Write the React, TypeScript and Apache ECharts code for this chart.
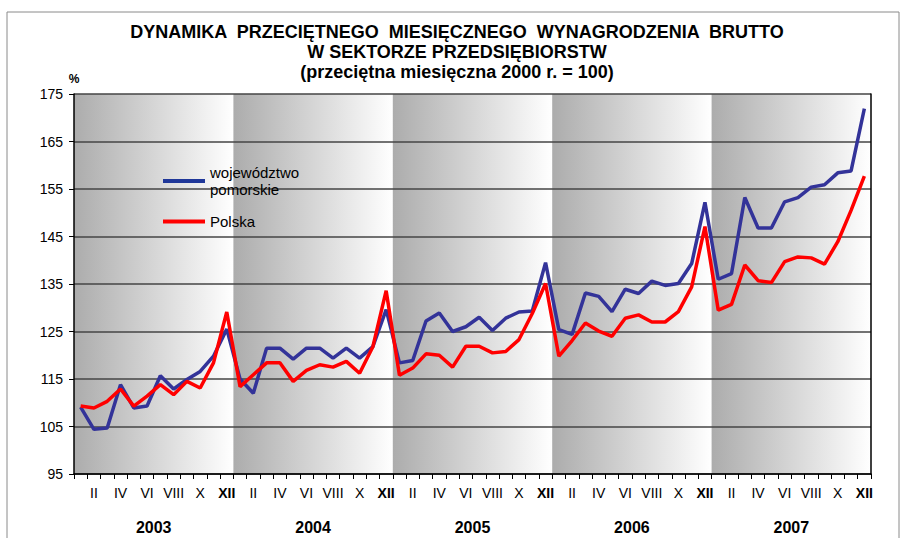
import React, { useEffect, useRef } from "react";
import * as echarts from "echarts";

const months = ["I", "II", "III", "IV", "V", "VI", "VII", "VIII", "IX", "X", "XI", "XII"];
const years = ["2003", "2004", "2005", "2006", "2007"];
const categories = years.flatMap((y) => months.map((m) => `${m} ${y}`));

const seriesNames = ["województwo pomorskie", "Polska"];

const pomorskie = [
  109.1, 104.4, 104.7, 113.8, 108.9, 109.3, 115.7, 112.9, 114.9, 116.6, 119.8, 125.5,
  115.0, 112.0, 121.5, 121.5, 119.2, 121.5, 121.5, 119.4, 121.5, 119.4, 121.8, 129.6,
  118.4, 118.9, 127.2, 128.9, 125.0, 126.0, 128.0, 125.2, 127.8, 129.1, 129.3, 139.5,
  125.4, 124.4, 133.1, 132.4, 129.2, 133.9, 133.0, 135.6, 134.7, 135.1, 139.3, 152.2,
  136.0, 137.2, 153.2, 146.8, 146.8, 152.3, 153.2, 155.4, 155.9, 158.4, 158.8, 171.9,
];

const polska = [
  109.3, 108.9, 110.3, 112.9, 109.3, 111.4, 113.8, 111.7, 114.5, 113.1, 118.4, 129.1,
  113.4, 115.9, 118.4, 118.4, 114.5, 116.8, 118.0, 117.5, 118.7, 116.2, 121.8, 133.6,
  115.8, 117.3, 120.3, 120.0, 117.5, 121.9, 121.9, 120.5, 120.8, 123.3, 128.8, 135.1,
  119.8, 123.1, 126.8, 125.1, 124.0, 127.8, 128.5, 127.0, 127.0, 129.2, 134.4, 147.1,
  129.5, 130.7, 139.0, 135.7, 135.3, 139.7, 140.7, 140.5, 139.2, 143.9, 150.5, 157.7,
];

const yMin = 95;
const yMax = 175;
const yStep = 10;

const titleLines = [
  "DYNAMIKA  PRZECIĘTNEGO  MIESIĘCZNEGO  WYNAGRODZENIA  BRUTTO",
  "W SEKTORZE PRZEDSIĘBIORSTW",
  "(przeciętna miesięczna 2000 r. = 100)",
];

const FONT = "Liberation Sans, Arial, sans-serif";

export default function App() {
  const ref = useRef<HTMLDivElement>(null);

  useEffect(() => {
    if (!ref.current) return;
    const chart = echarts.init(ref.current, undefined, { renderer: "svg" });

    const bands = years.map((_, i) => [i * months.length, (i + 1) * months.length]);

    const option: any = {
      animation: false,
      backgroundColor: "#ffffff",
      textStyle: { fontFamily: FONT },
      grid: { left: 74, right: 32, top: 94, bottom: 64, containLabel: false },
      graphic: [
        {
          type: "rect",
          shape: { x: 7, y: 12, width: 892, height: 540 },
          style: { fill: "none", stroke: "#8a8a8a", lineWidth: 1 },
          silent: true,
          z: -10,
        },
        {
          type: "text",
          x: 457,
          y: 22,
          style: {
            text: titleLines.join("\n"),
            textAlign: "center",
            textVerticalAlign: "top",
            font: `bold 18px ${FONT}`,
            lineHeight: 20,
            fill: "#000",
          },
        },
      ],
      legend: {
        orient: "vertical",
        left: 158,
        top: 159,
        itemGap: 15,
        itemWidth: 42,
        itemHeight: 4,
        icon: "rect",
        textStyle: { fontSize: 15, color: "#000", fontFamily: FONT, lineHeight: 17 },
        formatter: (n: string) => (n === seriesNames[0] ? "województwo\npomorskie" : n),
        data: [
          { name: seriesNames[0], itemStyle: { color: "#1f3799" } },
          { name: seriesNames[1], itemStyle: { color: "#ff0000" } },
        ],
      },
      xAxis: [
        {
          type: "category",
          data: categories,
          boundaryGap: true,
          z: 3,
          axisLine: { lineStyle: { color: "#000", width: 1.5 } },
          axisTick: { show: true, interval: 0, length: 5, lineStyle: { color: "#000" } },
          axisLabel: {
            interval: (i: number) => i % 2 === 1,
            color: "#000",
            fontSize: 14,
            fontFamily: FONT,
            margin: 12,
            formatter: (v: string) => {
              const m = v.split(" ")[0];
              return m === "XII" ? `{b|${m}}` : m;
            },
            rich: { b: { fontWeight: "bold", fontSize: 14, color: "#000", fontFamily: FONT } },
          },
          splitLine: { show: false },
        },
        {
          type: "category",
          data: years,
          position: "bottom",
          offset: 37,
          boundaryGap: true,
          axisLine: { show: false },
          axisTick: { show: false },
          axisLabel: { color: "#000", fontSize: 16, fontWeight: "bold", fontFamily: FONT, margin: 8 },
          splitLine: { show: false },
        },
        {
          type: "value",
          min: 0,
          max: categories.length,
          show: false,
        },
      ],
      yAxis: [
        {
          type: "value",
          min: yMin,
          max: yMax,
          interval: yStep,
          z: 3,
          name: "%",
          nameLocation: "end",
          nameGap: 9,
          nameTextStyle: { color: "#000", fontWeight: "bold", fontSize: 12, fontFamily: FONT, align: "center" },
          axisLine: { show: true, lineStyle: { color: "#000", width: 1.5 } },
          axisTick: { show: true, length: 5, lineStyle: { color: "#000" } },
          axisLabel: { color: "#000", fontSize: 14, fontFamily: FONT, margin: 11 },
          splitLine: { show: true, lineStyle: { color: "#444", width: 1.5 } },
        },
        {
          type: "value",
          min: yMin,
          max: yMax,
          interval: yStep,
          position: "right",
          z: 3,
          axisLine: { show: true, lineStyle: { color: "#000", width: 1.5 } },
          axisTick: { show: false },
          axisLabel: { show: false },
          splitLine: { show: false },
        },
      ],
      series: [
        {
          type: "custom",
          name: "bands",
          xAxisIndex: 2,
          yAxisIndex: 0,
          silent: true,
          z: 1,
          clip: false,
          data: bands,
          encode: { x: [0, 1] },
          renderItem: (params: any, api: any) => {
            const p0 = api.coord([api.value(0), yMax]);
            const p1 = api.coord([api.value(1), yMin]);
            return {
              type: "rect",
              shape: { x: p0[0], y: p0[1], width: p1[0] - p0[0], height: p1[1] - p0[1] },
              style: {
                fill: new echarts.graphic.LinearGradient(0, 0, 1, 0, [
                  { offset: 0, color: "#acacac" },
                  { offset: 1, color: "#ffffff" },
                ]),
              },
            };
          },
        },
        {
          type: "line",
          name: seriesNames[0],
          xAxisIndex: 0,
          yAxisIndex: 0,
          data: pomorskie,
          symbol: "none",
          z: 5,
          itemStyle: { color: "#333399" },
          lineStyle: { color: "#333399", width: 3.5 },
        },
        {
          type: "line",
          name: seriesNames[1],
          xAxisIndex: 0,
          yAxisIndex: 0,
          data: polska,
          symbol: "none",
          z: 6,
          itemStyle: { color: "#ff0000" },
          lineStyle: { color: "#ff0000", width: 3.5 },
        },
      ],
    };

    chart.setOption(option);
    return () => chart.dispose();
  }, []);

  return (
    <div
      ref={ref}
      style={{ position: "fixed", left: 0, top: 0, width: 903, height: 538, background: "#fff" }}
    />
  );
}
